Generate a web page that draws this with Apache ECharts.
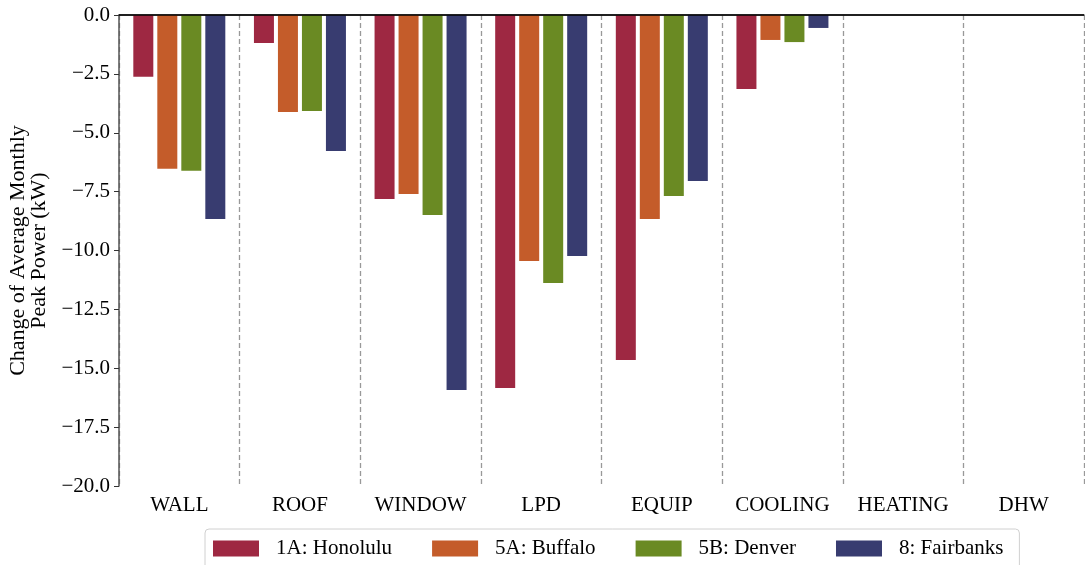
<!DOCTYPE html>
<html>
<head>
<meta charset="utf-8">
<script src="https://cdn.jsdelivr.net/npm/echarts@6/dist/echarts.min.js"></script>
<style>
  html, body { margin: 0; padding: 0; background: #fff; }
  #chart { width: 1085px; height: 565px; }
</style>
</head>
<body>
<div id="chart"></div>
<script>
// measures and climate zones
const categories = ['WALL', 'ROOF', 'WINDOW', 'LPD', 'EQUIP', 'COOLING', 'HEATING', 'DHW'];
const honolulu = [-2.62, -1.19, -7.81, -15.84, -14.65, -3.14, 0, 0];
const buffalo = [-6.53, -4.12, -7.60, -10.45, -8.66, -1.06, 0, 0];
const denver = [-6.61, -4.08, -8.49, -11.38, -7.69, -1.15, 0, 0];
const fairbanks = [-8.66, -5.78, -15.92, -10.23, -7.05, -0.55, 0, 0];
const seriesNames = ['1A: Honolulu', '5A: Buffalo', '5B: Denver', '8: Fairbanks'];
const colors = ['#9E2842', '#C45C2A', '#6A8A23', '#383C70'];

const font = 'Liberation Serif';
const chart = echarts.init(document.getElementById('chart'));

const bar = (name, data, color, extra) => Object.assign({
  name: name,
  type: 'bar',
  data: data,
  barWidth: 20,
  barGap: '20%',
  itemStyle: { color: color },
  silent: true,
}, extra || {});

const option = {
  animation: false,
  textStyle: { fontFamily: font, color: '#000' },
  grid: { left: 119, right: 1, top: 15, bottom: 79, outerBoundsMode: 'none' },
  legend: {
    data: seriesNames,
    left: 205,
    top: 529,
    padding: [9, 16, 12, 8],
    itemWidth: 46,
    itemHeight: 16,
    itemGap: 40,
    icon: 'rect',
    borderColor: '#d0d0d0',
    borderWidth: 1,
    borderRadius: 4,
    textStyle: { fontFamily: font, fontSize: 21, color: '#000', padding: [0, 0, 0, 12] },
  },
  xAxis: [
    {
      type: 'category',
      data: categories,
      axisLine: { lineStyle: { color: '#555', width: 1.5 } },
      axisTick: { interval: 0, alignWithLabel: false, length: 5, lineStyle: { color: '#333' } },
      axisLabel: { interval: 0, fontFamily: font, fontSize: 21, color: '#000', margin: 9 },
      splitLine: { show: true, interval: 0, lineStyle: { color: '#999', type: [5, 3], width: 1.3 } },
    },
    {
      // second axis only for the ticks at the category centres
      type: 'category',
      data: categories,
      position: 'bottom',
      axisLine: { show: false },
      axisTick: { interval: 0, alignWithLabel: true, length: 5, lineStyle: { color: '#333' } },
      axisLabel: { show: false },
      splitLine: { show: false },
    },
  ],
  yAxis: {
    type: 'value',
    min: -20,
    max: 0,
    interval: 2.5,
    name: 'Change of Average Monthly\nPeak Power (kW)',
    nameLocation: 'middle',
    nameRotate: 90,
    nameGap: 63,
    nameTextStyle: { fontFamily: font, fontSize: 22, color: '#000', lineHeight: 21 },
    axisLine: { show: true, lineStyle: { color: '#555', width: 1.5 } },
    axisTick: { show: true, length: 5, lineStyle: { color: '#333' } },
    axisLabel: {
      fontFamily: font, fontSize: 21, color: '#000', margin: 9,
      formatter: v => v.toFixed(1).replace('-', '\u2212'),
    },
    splitLine: { show: false },
  },
  series: [
    bar(seriesNames[0], honolulu, colors[0], {
      markLine: {
        silent: true,
        symbol: 'none',
        label: { show: false },
        lineStyle: { color: '#000', type: 'solid', width: 1.5 },
        data: [{ yAxis: 0 }],
      },
    }),
    bar(seriesNames[1], buffalo, colors[1]),
    bar(seriesNames[2], denver, colors[2]),
    bar(seriesNames[3], fairbanks, colors[3]),
  ],
};

chart.setOption(option);
</script>
</body>
</html>
